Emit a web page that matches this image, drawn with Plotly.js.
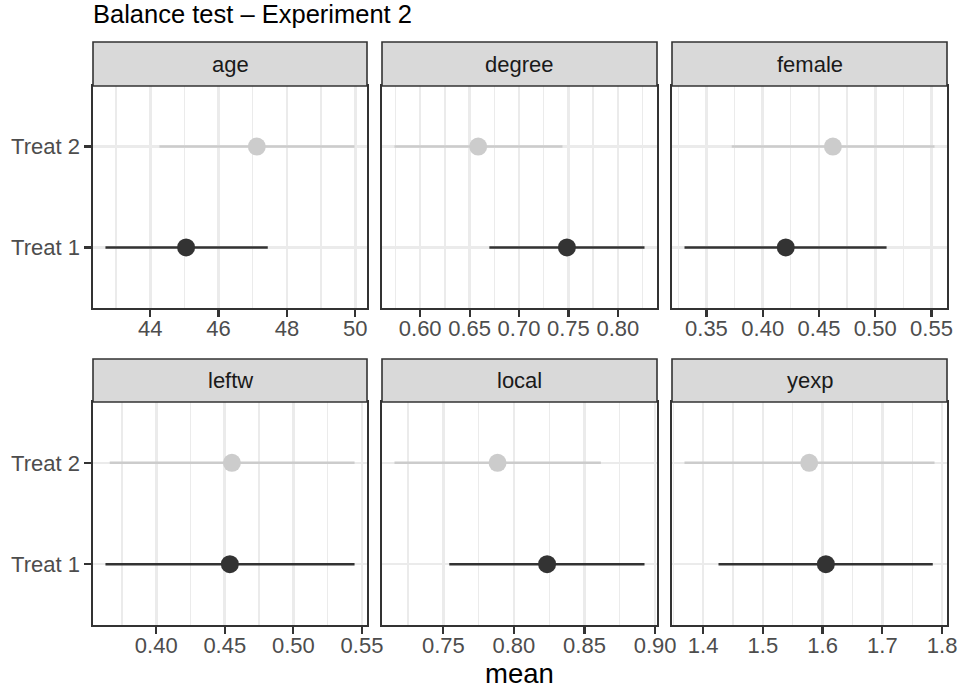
<!DOCTYPE html>
<html>
<head>
<meta charset="utf-8">
<script src="https://cdn.plot.ly/plotly-3.0.1.min.js"></script>
<style>html,body{margin:0;padding:0;background:#fff;}#chart{width:962px;height:696px;}</style>
</head>
<body>
<div id="chart"></div>
<script>
// ---- data ----
const variables = ['age', 'degree', 'female', 'leftw', 'local', 'yexp'];
const groups = ['Treat 1', 'Treat 2'];
const treat1Mean = [45.05, 0.7485, 0.4205, 0.4537, 0.8235, 1.6055];
const treat1Lo   = [42.69, 0.670,  0.3305, 0.3630, 0.7542, 1.4258];
const treat1Hi   = [47.44, 0.827,  0.5101, 0.5446, 0.8925, 1.7844];
const treat2Mean = [47.12, 0.6587, 0.4624, 0.4552, 0.7884, 1.5776];
const treat2Lo   = [44.27, 0.574,  0.3725, 0.3661, 0.7154, 1.3689];
const treat2Hi   = [49.98, 0.744,  0.5527, 0.5446, 0.8616, 1.7873];
const majorStep = [2, 0.05, 0.05, 0.05, 0.05, 0.1];
const tickFormats = ['d', '.2f', '.2f', '.2f', '.2f', '.1f'];
const titleText = 'Balance test \u2013 Experiment 2';
const xTitle = 'mean';

// ---- layout geometry ----
const W = 962, H = 696;
const colPx = [[93, 367], [382, 657], [672, 947]];
const rowPx = [{strip: [42, 86], panel: [86, 308]}, {strip: [359, 402], panel: [402, 625]}];
const px = v => v / W;
const py = v => 1 - v / H;

const FONT = 'Liberation Sans, Arial, Helvetica, sans-serif';
const colors = {'Treat 1': '#333333', 'Treat 2': '#CCCCCC'};
const LW = 2.6;     // data lines / major grid
const BW = 1.6;     // panel + strip borders
const TW = 2.2;     // tick marks

const data = [];
const layout = {
  width: W, height: H,
  margin: {l: 0, r: 0, t: 0, b: 0},
  paper_bgcolor: '#FFFFFF', plot_bgcolor: '#FFFFFF',
  showlegend: false,
  font: {family: FONT, color: '#4D4D4D'},
  title: {text: titleText, x: px(93), xanchor: 'left', xref: 'paper',
          y: 1 - 14.5 / H, yref: 'paper', yanchor: 'middle',
          font: {family: FONT, size: 25.5, color: '#000000'}},
  shapes: [], annotations: []
};

variables.forEach((v, i) => {
  const r = Math.floor(i / 3), c = i % 3;
  const sfx = i === 0 ? '' : String(i + 1);
  const xa = 'x' + sfx, ya = 'y' + sfx;
  const sets = [
    {g: 'Treat 2', m: treat2Mean[i], lo: treat2Lo[i], hi: treat2Hi[i]},
    {g: 'Treat 1', m: treat1Mean[i], lo: treat1Lo[i], hi: treat1Hi[i]}
  ];
  sets.forEach(s => {
    data.push({
      type: 'scatter', mode: 'markers', xaxis: xa, yaxis: ya,
      x: [s.m], y: [s.g], name: s.g, hoverinfo: 'x+y',
      marker: {size: 18, color: colors[s.g], line: {width: 0}},
      error_x: {type: 'data', symmetric: false, array: [s.hi - s.m], arrayminus: [s.m - s.lo],
                width: 0, thickness: LW, color: colors[s.g]}
    });
  });
  const lo = Math.min(treat1Lo[i], treat2Lo[i]);
  const hi = Math.max(treat1Hi[i], treat2Hi[i]);
  const w = hi - lo;
  layout['xaxis' + sfx] = {
    domain: [px(colPx[c][0]), px(colPx[c][1])], anchor: ya,
    range: [lo - 0.05 * w, hi + 0.05 * w],
    tick0: 0, dtick: majorStep[i], tickformat: tickFormats[i],
    ticks: 'outside', ticklen: 7, tickwidth: TW, tickcolor: '#333333',
    ticklabelstandoff: -7,
    tickfont: {family: FONT, size: 22, color: '#4D4D4D'},
    showgrid: true, gridcolor: '#EBEBEB', gridwidth: LW,
    minor: {tick0: majorStep[i] / 2, dtick: majorStep[i], showgrid: true, gridcolor: '#EBEBEB', gridwidth: LW / 2, ticks: ''},
    showline: true, mirror: true, linecolor: '#333333', linewidth: BW,
    zeroline: false, fixedrange: true, automargin: false
  };
  layout['yaxis' + sfx] = {
    domain: [py(rowPx[r].panel[1]), py(rowPx[r].panel[0])], anchor: xa,
    type: 'category', categoryorder: 'array', categoryarray: groups,
    range: [-0.6, 1.6],
    ticks: c === 0 ? 'outside' : '', ticklen: 7, tickwidth: TW, tickcolor: '#333333',
    showticklabels: c === 0,
    tickfont: {family: FONT, size: 22, color: '#4D4D4D'},
    showgrid: true, gridcolor: '#EBEBEB', gridwidth: LW,
    showline: true, mirror: true, linecolor: '#333333', linewidth: BW,
    zeroline: false, fixedrange: true, automargin: false
  };
  // strip
  layout.shapes.push({
    type: 'rect', xref: 'paper', yref: 'paper',
    x0: px(colPx[c][0]), x1: px(colPx[c][1]),
    y0: py(rowPx[r].strip[1]), y1: py(rowPx[r].strip[0]),
    fillcolor: '#D9D9D9', line: {color: '#333333', width: BW}, layer: 'above'
  });
  layout.annotations.push({
    text: v, xref: 'paper', yref: 'paper', showarrow: false,
    x: px((colPx[c][0] + colPx[c][1]) / 2), y: py((rowPx[r].strip[0] + rowPx[r].strip[1]) / 2),
    xanchor: 'center', yanchor: 'middle',
    font: {family: FONT, size: 22, color: '#1A1A1A'}
  });
});

layout.xaxis5.title = {text: xTitle, standoff: 4, font: {family: FONT, size: 27.5, color: '#000000'}};

Plotly.newPlot('chart', data, layout, {staticPlot: true, displayModeBar: false});
</script>
</body>
</html>
